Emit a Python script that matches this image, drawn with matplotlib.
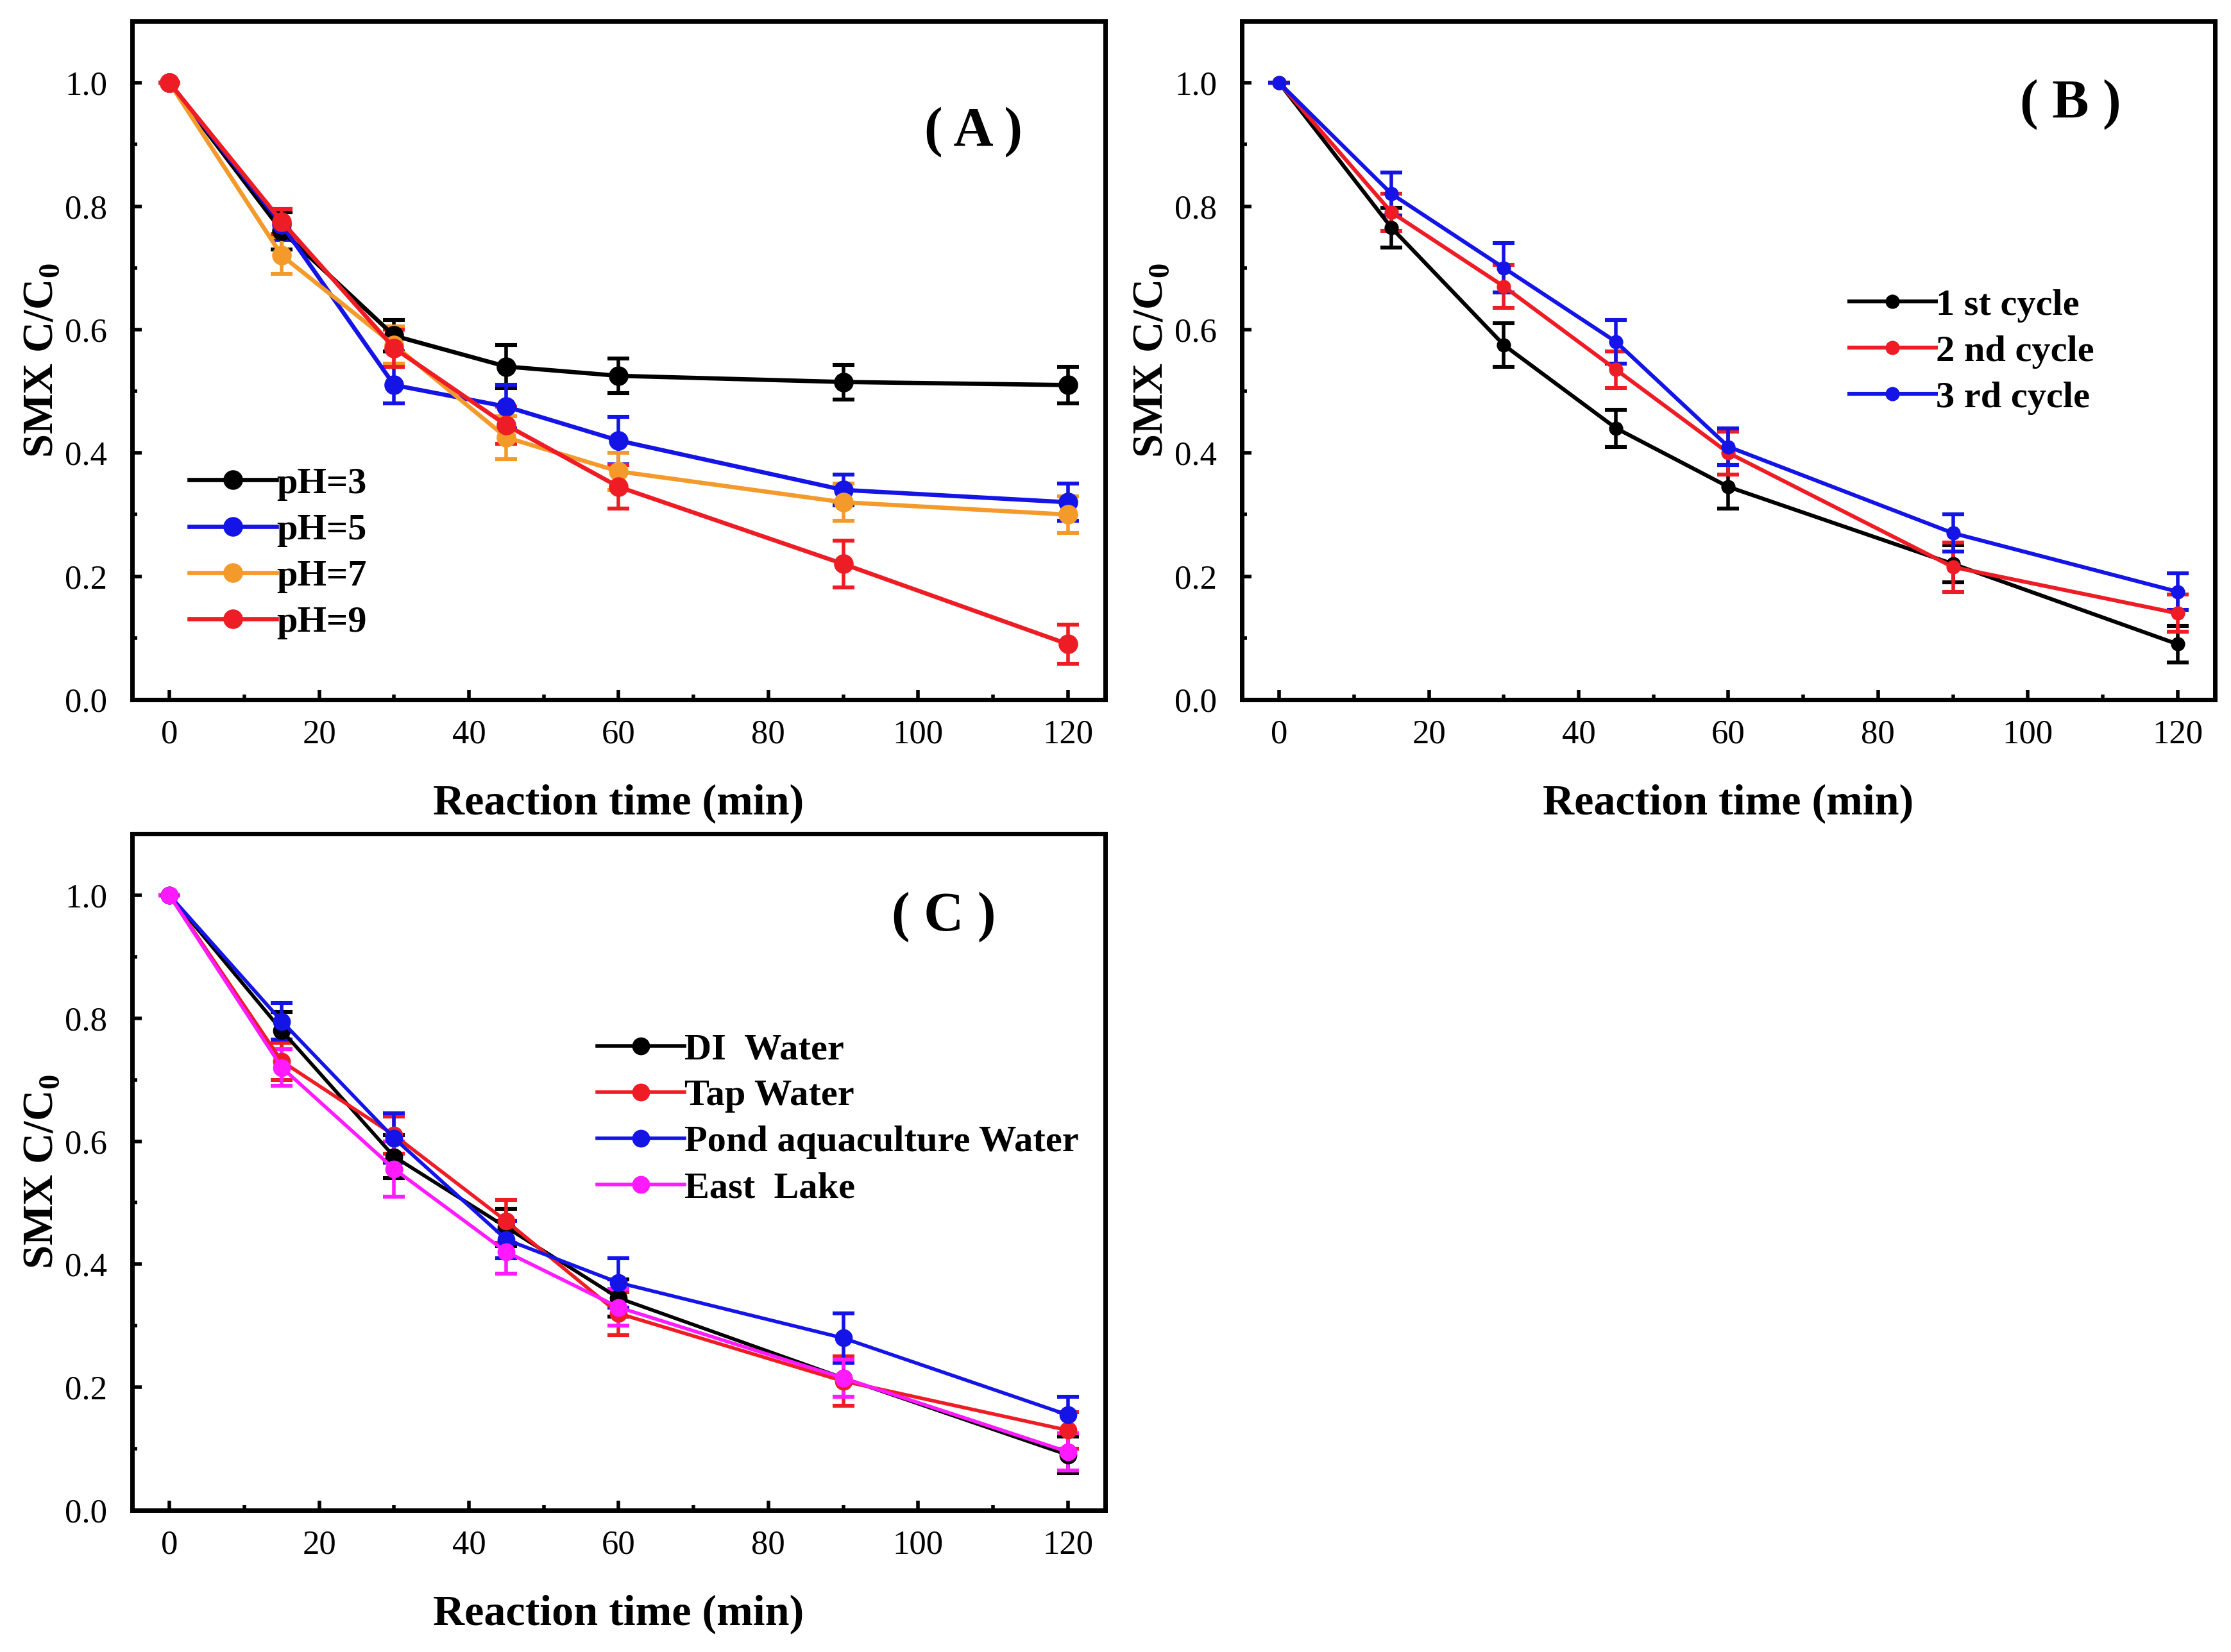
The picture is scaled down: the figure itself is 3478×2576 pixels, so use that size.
import matplotlib
matplotlib.use("Agg")
import matplotlib.pyplot as plt
from matplotlib.ticker import MultipleLocator, FormatStrFormatter

plt.rcParams['font.family'] = ['Liberation Serif', 'DejaVu Serif']
plt.rcParams['mathtext.fontset'] = 'custom'
plt.rcParams['mathtext.rm'] = 'Liberation Serif'
plt.rcParams['mathtext.bf'] = 'Liberation Serif:bold'

# reaction time (min)
time = [0, 15, 30, 45, 60, 90, 120]

# (A) effect of pH
ph_labels = ['pH=3', 'pH=5', 'pH=7', 'pH=9']
ph_colors = ['#000000', '#1414E6', '#F39A2B', '#EE1C25']
ph_values = [
    [1.0, 0.76, 0.59, 0.54, 0.525, 0.515, 0.51],
    [1.0, 0.77, 0.51, 0.475, 0.42, 0.34, 0.32],
    [1.0, 0.72, 0.575, 0.425, 0.37, 0.32, 0.30],
    [1.0, 0.775, 0.57, 0.445, 0.345, 0.22, 0.09],
]
ph_errors = [
    [0.0, 0.03, 0.025, 0.035, 0.028, 0.028, 0.03],
    [0.0, 0.025, 0.03, 0.035, 0.038, 0.025, 0.03],
    [0.0, 0.03, 0.03, 0.035, 0.03, 0.03, 0.03],
    [0.0, 0.02, 0.03, 0.03, 0.035, 0.038, 0.032],
]

# (B) reuse cycles
cycle_labels = ['1 st cycle', '2 nd cycle', '3 rd cycle']
cycle_colors = ['#000000', '#EE1C25', '#1414E6']
cycle_values = [
    [1.0, 0.765, 0.575, 0.44, 0.345, 0.22, 0.09],
    [1.0, 0.79, 0.67, 0.535, 0.40, 0.215, 0.14],
    [1.0, 0.82, 0.70, 0.58, 0.41, 0.27, 0.175],
]
cycle_errors = [
    [0.0, 0.032, 0.035, 0.03, 0.035, 0.03, 0.03],
    [0.0, 0.03, 0.035, 0.03, 0.035, 0.04, 0.03],
    [0.0, 0.035, 0.04, 0.035, 0.03, 0.03, 0.03],
]

# (C) water matrix
water_labels = ['DI  Water', 'Tap Water', 'Pond aquaculture Water', 'East  Lake']
water_colors = ['#000000', '#EE1C25', '#1414E6', '#FF1AFF']
water_values = [
    [1.0, 0.78, 0.575, 0.46, 0.345, 0.215, 0.09],
    [1.0, 0.73, 0.61, 0.47, 0.32, 0.21, 0.13],
    [1.0, 0.795, 0.605, 0.44, 0.37, 0.28, 0.155],
    [1.0, 0.72, 0.555, 0.42, 0.33, 0.215, 0.095],
]
water_errors = [
    [0.0, 0.03, 0.035, 0.03, 0.03, 0.03, 0.03],
    [0.0, 0.03, 0.03, 0.035, 0.035, 0.04, 0.03],
    [0.0, 0.03, 0.04, 0.03, 0.04, 0.04, 0.03],
    [0.0, 0.03, 0.045, 0.035, 0.03, 0.03, 0.03],
]


def draw_panel(ax, labels, colors, values, errors, tag, tag_xy, leg_anchor,
               lw, ms):
    for name, c, y, e in zip(labels, colors, values, errors):
        ax.errorbar(time, y, yerr=e, fmt='none', ecolor=c, elinewidth=2.0,
                    capsize=6, capthick=2.2, zorder=2)
        ax.plot(time, y, color=c, lw=lw, marker='o', ms=ms,
                markeredgecolor=c, label=name, zorder=3)

    ax.set_xlim(-5, 125)
    ax.set_ylim(0, 1.1)
    ax.xaxis.set_major_locator(MultipleLocator(20))
    ax.xaxis.set_minor_locator(MultipleLocator(10))
    ax.yaxis.set_major_locator(MultipleLocator(0.2))
    ax.yaxis.set_minor_locator(MultipleLocator(0.1))
    ax.yaxis.set_major_formatter(FormatStrFormatter('%.1f'))
    ax.tick_params(which='both', direction='in', top=False, right=False,
                   width=2.0, labelsize=19)
    ax.tick_params(which='major', length=5.5)
    ax.tick_params(which='minor', length=3)
    ax.tick_params(axis='x', pad=11)
    ax.tick_params(axis='y', pad=14)
    for sp in ax.spines.values():
        sp.set_linewidth(2.5)

    ax.set_xlabel('Reaction time (min)', fontsize=24.5, fontweight='bold',
                  labelpad=19)
    ax.set_ylabel(r'SMX C/C$_{\mathbf{0}}$', fontsize=24, fontweight='bold',
                  labelpad=2)

    ax.text(tag_xy[0], tag_xy[1], tag, fontsize=31, fontweight='bold',
            ha='center', va='center')

    leg = ax.legend(loc='upper left', bbox_to_anchor=leg_anchor,
                    frameon=False, handlelength=2.33, handletextpad=0.0,
                    labelspacing=0.33, borderpad=0, borderaxespad=0,
                    numpoints=1, prop={'weight': 'bold', 'size': 21})
    return leg


fig = plt.figure(figsize=(17.39, 12.88), dpi=200)
fig.patch.set_facecolor('white')

ax_a = fig.add_axes([0.0592, 0.5765, 0.4362, 0.4107])
ax_b = fig.add_axes([0.5566, 0.5765, 0.4362, 0.4107])
ax_c = fig.add_axes([0.0592, 0.0858, 0.4362, 0.4095])

draw_panel(ax_a, ph_labels, ph_colors, ph_values, ph_errors,
           '( A )', (107.4, 0.92), (0.059, 0.343), 2.4, 10)
draw_panel(ax_b, cycle_labels, cycle_colors, cycle_values, cycle_errors,
           '( B )', (105.7, 0.965), (0.624, 0.606), 2.2, 7)
draw_panel(ax_c, water_labels, water_colors, water_values, water_errors,
           '( C )', (103.4, 0.965), (0.478, 0.706), 2.0, 9)

fig.savefig('out.png', dpi=200, facecolor='white')
